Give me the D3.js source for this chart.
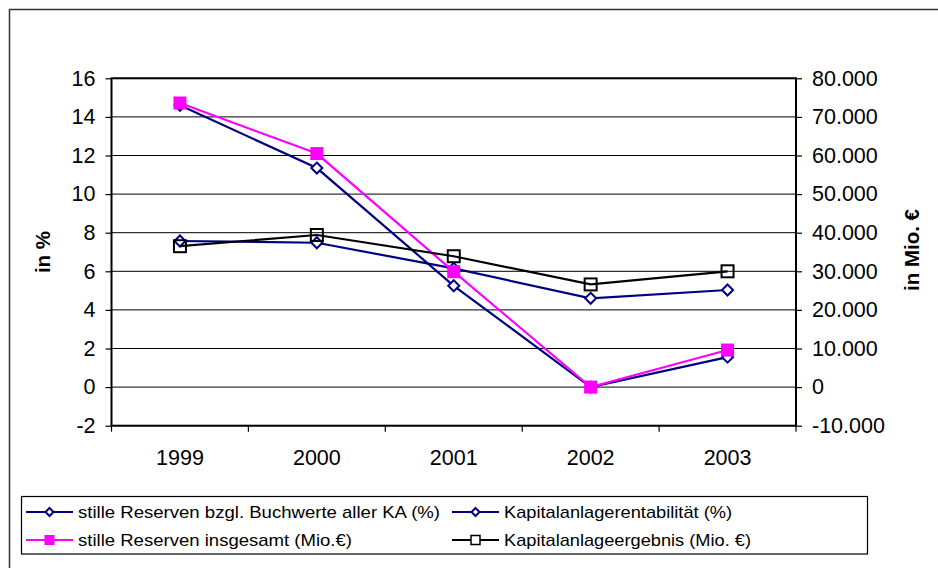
<!DOCTYPE html>
<html><head><meta charset="utf-8">
<script src="https://cdn.jsdelivr.net/npm/d3@7"></script>
<style>
html,body{margin:0;padding:0;background:#fff;}
svg{display:block;font-family:"Liberation Sans",Arial,sans-serif;}
</style></head>
<body>
<svg id="chart" width="938" height="568"></svg>
<script>
const years = ["1999","2000","2001","2002","2003"];
const reservenPct = [14.6, 11.35, 5.25, 0.0, 1.55];
const rentabilitaet = [7.57, 7.48, 6.15, 4.6, 5.03];
const reservenMio = [73600, 60500, 29900, 0, 9600];
const ergebnisMio = [36500, 39400, 33900, 26600, 30000];
const leftTicks = [-2,0,2,4,6,8,10,12,14,16];
const rightTicks = [-10000,0,10000,20000,30000,40000,50000,60000,70000,80000];
const legendLabels = ["stille Reserven bzgl. Buchwerte aller KA (%)","Kapitalanlagerentabilität (%)","stille Reserven insgesamt (Mio.€)","Kapitalanlageergebnis (Mio. €)"];

const svg = d3.select("#chart");
const L = 111.5, R = 796, T = 78.3, B = 425.7;
const navy = "#000080", pink = "#FF00FF";

svg.append("rect").attr("x",9.5).attr("y",9.5).attr("width",940).attr("height",570)
  .attr("fill","#fff").attr("stroke","#333").attr("stroke-width",1.5);

const x = d3.scaleBand().domain(years).range([L,R]);
const yL = d3.scaleLinear().domain([-2,16]).range([B,T]);
const yR = d3.scaleLinear().domain([-10000,80000]).range([B,T]);
const de = d3.formatLocale({decimal:",",thousands:".",grouping:[3],currency:["","€"],minus:"-"});
const fmt = de.format(",");

// gridlines
svg.append("g").selectAll("line").data(leftTicks).join("line")
  .attr("x1",L).attr("x2",R).attr("y1",d=>yL(d)).attr("y2",d=>yL(d))
  .attr("stroke","#000").attr("stroke-width",1);

// axes
const gl = svg.append("g").attr("transform",`translate(${L},0)`)
  .call(d3.axisLeft(yL).tickValues(leftTicks).tickSize(6).tickPadding(10).tickFormat(d=>String(d)));
const gr = svg.append("g").attr("transform",`translate(${R},0)`)
  .call(d3.axisRight(yR).tickValues(rightTicks).tickSize(6).tickPadding(10).tickFormat(fmt));
const gx = svg.append("g").attr("transform",`translate(0,${B})`)
  .call(d3.axisBottom(x).tickSize(0).tickPadding(24));
// category boundary ticks
svg.append("g").selectAll("line").data(years.concat(["end"])).join("line")
  .attr("x1",(d,i)=>L+i*x.step()).attr("x2",(d,i)=>L+i*x.step())
  .attr("y1",B).attr("y2",B+6).attr("stroke","#000").attr("stroke-width",1.2);

[gl,gr,gx].forEach(g=>{
  g.select(".domain").remove();
  g.selectAll("text").attr("font-size",21.5).attr("fill","#000").attr("font-family","'Liberation Sans',Arial,sans-serif");
  g.selectAll("line").attr("stroke","#000").attr("stroke-width",1.2);
});

// plot border
svg.append("rect").attr("x",L).attr("y",T).attr("width",R-L).attr("height",B-T)
  .attr("fill","none").attr("stroke","#000").attr("stroke-width",2);

// axis titles
svg.append("text").attr("transform",`translate(50,252) rotate(-90)`).attr("text-anchor","middle")
  .attr("font-size",20.5).attr("font-weight","bold").text("in %");
svg.append("text").attr("transform",`translate(919,250) rotate(-90)`).attr("text-anchor","middle")
  .attr("font-size",20.5).attr("font-weight","bold").text("in Mio. €");

const cx = d => x(d)+x.bandwidth()/2;
function diamond(g,px,py,r,color){
  g.append("path").attr("d",`M${px},${py-r}L${px+r},${py}L${px},${py+r}L${px-r},${py}Z`)
   .attr("fill","#fff").attr("stroke",color).attr("stroke-width",2);
}
function series(vals, scale, color, marker){
  const g = svg.append("g");
  const line = d3.line().x((d,i)=>cx(years[i])).y(d=>scale(d));
  g.append("path").datum(vals).attr("d",line).attr("fill","none").attr("stroke",color).attr("stroke-width",2.2);
  vals.forEach((v,i)=>{
    const px = cx(years[i]), py = scale(v);
    if(marker==="diamond") diamond(g,px,py,5.5,color);
    else if(marker==="fsquare") g.append("rect").attr("x",px-6.5).attr("y",py-6.5).attr("width",13).attr("height",13).attr("fill",pink);
    else g.append("rect").attr("x",px-6).attr("y",py-6).attr("width",12).attr("height",12).attr("fill","none").attr("stroke","#000").attr("stroke-width",2);
  });
}
series(reservenPct, yL, navy, "diamond");
series(rentabilitaet, yL, navy, "diamond");
series(reservenMio, yR, pink, "fsquare");
series(ergebnisMio, yR, "#000", "osquare");

// legend
const lg = svg.append("g");
lg.append("rect").attr("x",21.5).attr("y",496.5).attr("width",846).attr("height",57.5)
  .attr("fill","#fff").attr("stroke","#000").attr("stroke-width",1.2);
const items = [
  {lx:26, ty:512, color:navy, m:"diamond", w:362},
  {lx:452, ty:512, color:navy, m:"diamond", w:228},
  {lx:26, ty:540, color:pink, m:"fsquare", w:274},
  {lx:452, ty:540, color:"#000", m:"osquare", w:247}
];
items.forEach((it,i)=>{
  lg.append("line").attr("x1",it.lx).attr("x2",it.lx+47).attr("y1",it.ty).attr("y2",it.ty).attr("stroke",it.color).attr("stroke-width",2.2);
  const mx = it.lx+23.5;
  if(it.m==="diamond") diamond(lg,mx,it.ty,4,it.color);
  else if(it.m==="fsquare") lg.append("rect").attr("x",mx-5).attr("y",it.ty-5).attr("width",10).attr("height",10).attr("fill",pink);
  else lg.append("rect").attr("x",mx-4.5).attr("y",it.ty-4.5).attr("width",9).attr("height",9).attr("fill","#fff").attr("stroke","#000").attr("stroke-width",1.5);
  lg.append("text").attr("x",it.lx+52).attr("y",it.ty).attr("dy","0.35em").attr("font-size",17)
    .attr("textLength",it.w).attr("lengthAdjust","spacingAndGlyphs").text(legendLabels[i]);
});
</script>
</body></html>
